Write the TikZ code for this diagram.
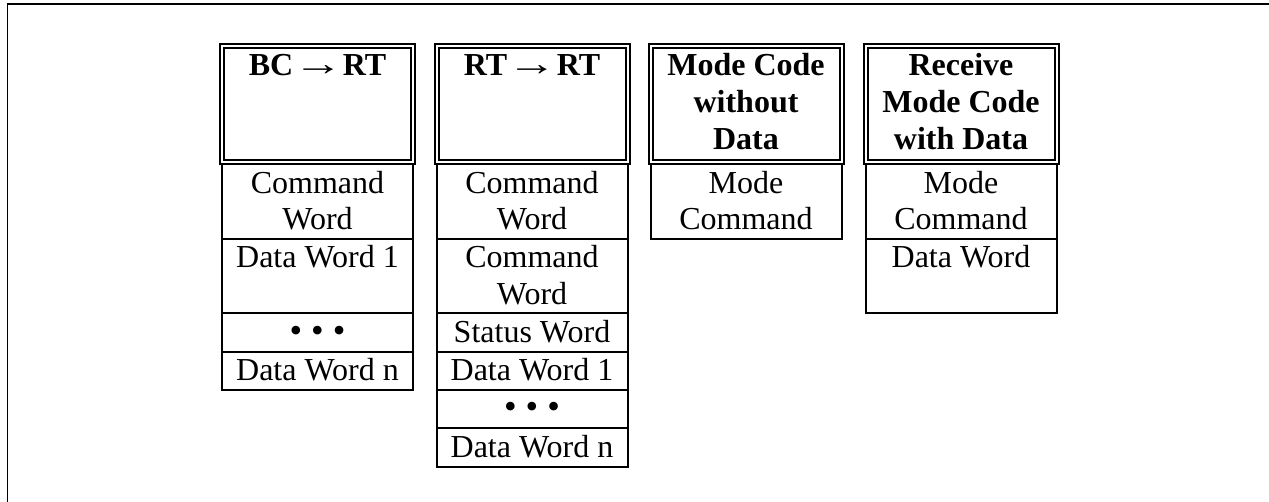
\documentclass[tikz,border=0pt]{standalone}
\usepackage{fontspec}
\setmainfont{Liberation Serif}
\usetikzlibrary{positioning}

% top-aligned cell contents of a fixed height
\newcommand{\celltext}[2]{\parbox[c][#1][t]{180pt}{\centering\fontsize{32}{36.5}\selectfont\rule{0pt}{29pt}#2}}
\newcommand{\headtext}[1]{\parbox[c][116.6pt][t]{180pt}{\centering\fontsize{32}{37}\selectfont\bfseries\rule{0pt}{30.3pt}#1}}
\newcommand{\xarr}{\scalebox{1.55}[1.1]{\mdseries →}}
\newcommand{\moredots}{{\fontsize{36}{36}\selectfont\textbullet\ \textbullet\ \textbullet}}

\begin{document}
\begin{tikzpicture}[x=1pt, y=-1pt,
      cell/.style={draw, line width=2pt, minimum width=191pt, inner sep=0pt, outer sep=0pt},
      head/.style={cell, double, double distance=2pt, anchor=north},
      frame/.style={line width=1.7pt}]

    \useasboundingbox (0,0) rectangle (1269,502);

    % outer frame
    \draw[frame] (7.5,502) |- (1269,4);

    % ============================================
    % BC -> RT
    % ============================================
    \node[head] (bcHead) at (317.5,45.7) {\headtext{BC\xarr{}RT}};
    \node[cell, below=2pt of bcHead] (bcCmd) {\celltext{74.5pt}{Command\\Word}};
    \node[cell, below=0pt of bcCmd] (bcData1) {\celltext{74.5pt}{Data Word 1}};
    \node[cell, below=0pt of bcData1] (bcDots) {\celltext{38.3pt}{\moredots}};
    \node[cell, below=0pt of bcDots] (bcDataN) {\celltext{38.3pt}{Data Word n}};

    % ============================================
    % RT -> RT
    % ============================================
    \node[head] (rtHead) at (532,45.7) {\headtext{RT\xarr{}RT}};
    \node[cell, below=2pt of rtHead] (rtCmdA) {\celltext{74.5pt}{Command\\Word}};
    \node[cell, below=0pt of rtCmdA] (rtCmdB) {\celltext{74.5pt}{Command\\Word}};
    \node[cell, below=0pt of rtCmdB] (rtStat) {\celltext{38.3pt}{Status Word}};
    \node[cell, below=0pt of rtStat] (rtData1) {\celltext{38.3pt}{Data Word 1}};
    \node[cell, below=0pt of rtData1] (rtDots) {\celltext{38.3pt}{\moredots}};
    \node[cell, below=0pt of rtDots] (rtDataN) {\celltext{38.3pt}{Data Word n}};

    % ============================================
    % Mode code without data
    % ============================================
    \node[head] (mcHead) at (746,45.7) {\headtext{Mode Code\\without\\Data}};
    \node[cell, below=2pt of mcHead] (mcCmd) {\celltext{74.5pt}{Mode\\Command}};

    % ============================================
    % Receive mode code with data
    % ============================================
    \node[head] (rxHead) at (961,45.7) {\headtext{Receive\\Mode Code\\with Data}};
    \node[cell, below=2pt of rxHead] (rxCmd) {\celltext{74.5pt}{Mode\\Command}};
    \node[cell, below=0pt of rxCmd] (rxData) {\celltext{74.5pt}{Data Word}};

\end{tikzpicture}
\end{document}
